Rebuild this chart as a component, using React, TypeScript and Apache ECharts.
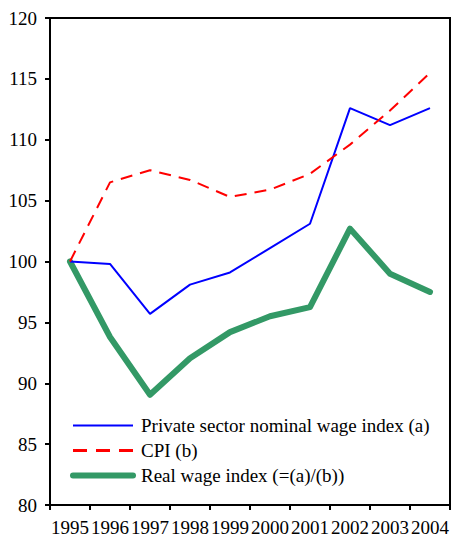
import React, { useEffect, useRef } from "react";
import * as echarts from "echarts";

const years = ["1995", "1996", "1997", "1998", "1999", "2000", "2001", "2002", "2003", "2004"];
const nominalWage = [100, 99.8, 95.7, 98.1, 99.1, 101.1, 103.1, 112.6, 111.2, 112.6];
const cpi = [100, 106.5, 107.5, 106.7, 105.3, 105.9, 107.2, 109.6, 112.4, 115.5];
const realWage = [100, 93.8, 89.05, 92.05, 94.2, 95.5, 96.25, 102.7, 99.0, 97.5];

const seriesNames = [
  "Private sector nominal wage index (a)",
  "CPI (b)",
  "Real wage index (=(a)/(b))",
];

const FONT = "'Liberation Serif', 'Times New Roman', serif";

export default function App() {
  const ref = useRef<HTMLDivElement>(null);
  useEffect(() => {
    if (!ref.current) return;
    const chart = echarts.init(ref.current, undefined, { renderer: "svg" });
    chart.setOption({
      animation: false,
      backgroundColor: "#fff",
      grid: {
        left: 50,
        right: 4,
        top: 18,
        bottom: 35,
        show: true,
        borderColor: "#000",
        borderWidth: 2,
        backgroundColor: "transparent",
      },
      legend: {
        orient: "vertical",
        left: 65,
        top: 411,
        itemWidth: 60,
        itemHeight: 19,
        itemGap: 6,
        itemStyle: { opacity: 0 },
        textStyle: { fontFamily: FONT, fontSize: 19, color: "#000", lineHeight: 19, padding: [0, 0, 0, 3] },
        data: [
          { name: seriesNames[0], lineStyle: { width: 2 } },
          { name: seriesNames[1], lineStyle: { width: 3, type: [14, 9] } },
          { name: seriesNames[2], lineStyle: { width: 6, cap: "round" } },
        ],
      },
      xAxis: {
        type: "category",
        data: years,
        boundaryGap: true,
        axisLine: { lineStyle: { color: "#000", width: 2 } },
        axisTick: { show: true, length: 5, inside: false, lineStyle: { color: "#000", width: 2 } },
        axisLabel: { fontFamily: FONT, fontSize: 19, color: "#000", margin: 13, interval: 0 },
        splitLine: { show: false },
      },
      yAxis: {
        type: "value",
        min: 80,
        max: 120,
        interval: 5,
        axisLine: { show: true, lineStyle: { color: "#000", width: 2 } },
        axisTick: { show: true, length: 5, inside: false, lineStyle: { color: "#000", width: 2 } },
        axisLabel: { fontFamily: FONT, fontSize: 19, color: "#000", margin: 13 },
        splitLine: { show: false },
      },
      series: [
        {
          name: seriesNames[0],
          type: "line",
          data: nominalWage,
          symbol: "none",
          lineStyle: { color: "#0000ff", width: 2 },
          itemStyle: { color: "#0000ff" },
          z: 3,
        },
        {
          name: seriesNames[1],
          type: "line",
          data: cpi,
          symbol: "none",
          lineStyle: { color: "#ff0000", width: 2, type: [12, 8] },
          itemStyle: { color: "#ff0000" },
          z: 3,
        },
        {
          name: seriesNames[2],
          type: "line",
          data: realWage,
          symbol: "none",
          lineStyle: { color: "#339966", width: 6, cap: "round", join: "round" },
          itemStyle: { color: "#339966" },
          z: 2,
        },
      ],
    });
    return () => chart.dispose();
  }, []);
  return <div ref={ref} style={{ width: 454, height: 540, position: "absolute", left: 0, top: 0 }} />;
}
